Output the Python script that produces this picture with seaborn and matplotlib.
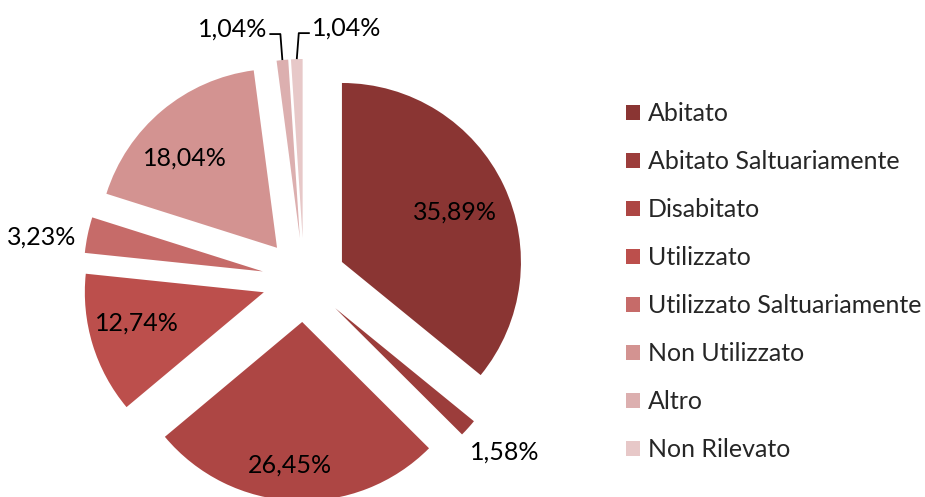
import numpy as np
import matplotlib
matplotlib.use("Agg")
import matplotlib.pyplot as plt
import seaborn as sns
from matplotlib.patches import Patch

categories = ["Abitato", "Abitato Saltuariamente", "Disabitato", "Utilizzato",
              "Utilizzato Saltuariamente", "Non Utilizzato", "Altro", "Non Rilevato"]
values = [35.89, 1.58, 26.45, 12.74, 3.23, 18.04, 1.04, 1.04]
labels = ["35,89%", "1,58%", "26,45%", "12,74%", "3,23%", "18,04%", "1,04%", "1,04%"]
colors = ["#8A3533", "#9C3D3B", "#AD4644", "#BC4F4C", "#C66B69", "#D39391", "#DCAFAF", "#E7C8C8"]

sns.set_theme(style="white")
plt.rcParams["font.family"] = ["Lato", "DejaVu Sans"]

W, H = 925, 497
fig = plt.figure(figsize=(W / 100, H / 100), dpi=100)
ax = fig.add_axes([0, 0, 1, 1])

R = 179
cx, cy = 304, 217
explode = [42] * len(values)
wedges, _ = ax.pie(values, colors=colors, startangle=90, counterclock=False,
                   explode=explode, radius=R, center=(cx, cy), frame=True,
                   wedgeprops=dict(linewidth=0))
ax.set_xlim(0, W)
ax.set_ylim(0, H)
ax.set_aspect("equal")
ax.axis("off")

FS = 18
# label placement: fraction of radius from each wedge's own center, small angular nudge
dist = [0.69, 1.245, 0.80, 0.73, 1.25, 0.72, None, None]
nudge = [-1.5, 1.7, -2.3, -3.3, 3.0, 5.7, 0, 0]
for w, lab, d, n in zip(wedges, labels, dist, nudge):
    if d is None:
        continue
    a = np.deg2rad((w.theta1 + w.theta2) / 2 + n)
    x = w.center[0] + d * R * np.cos(a)
    y = w.center[1] + d * R * np.sin(a)
    ax.text(x, y, lab, ha="center", va="center", fontsize=FS, color="black")

# leader lines for the two tiny slices at the top
for w, lab, side in [(wedges[6], labels[6], -1), (wedges[7], labels[7], 1)]:
    a = np.deg2rad((w.theta1 + w.theta2) / 2)
    x0 = w.center[0] + R * np.cos(a)
    y0 = w.center[1] + R * np.sin(a)
    y1 = y0 + 26
    x1 = x0 + side * 2
    x2 = x1 + side * 11
    ax.plot([x0, x1, x2], [y0, y1, y1], color="black", lw=1.3, solid_capstyle="butt")
    ax.text(x2 + side * 2, y1 + 5, lab, ha="left" if side > 0 else "right",
            va="center", fontsize=FS, color="black")

handles = [Patch(facecolor=c, edgecolor="none", label=l) for c, l in zip(colors, categories)]
leg = fig.legend(handles=handles, loc="upper left", bbox_to_anchor=(626 / W, 1 - 102 / H),
                 frameon=False, fontsize=FS, handlelength=0.56, handleheight=0.56,
                 handletextpad=0.32, labelspacing=1.0, borderpad=0, borderaxespad=0)

fig.savefig("out.png", dpi=100)
